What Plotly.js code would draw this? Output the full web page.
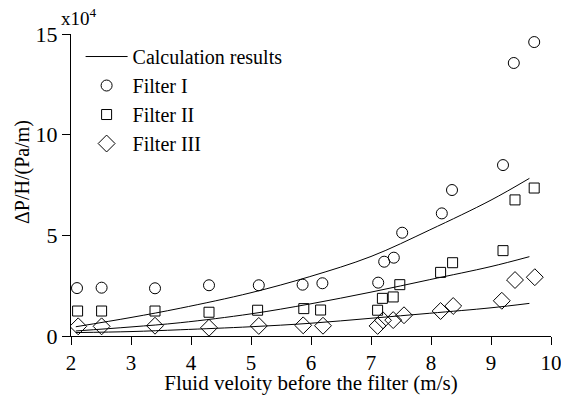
<!DOCTYPE html>
<html>
<head>
<meta charset="utf-8">
<script src="https://cdn.plot.ly/plotly-3.0.1.min.js"></script>
<style>html,body{margin:0;padding:0;background:#fff;}#chart{width:561px;height:395px;}</style>
</head>
<body>
<div id="chart"></div>
<script>
// Calculation results (three curves)
const calcX = [2.08, 3.0, 3.82, 5.0, 5.98, 7.0, 7.98, 9.0, 9.64];
const calcTop = [0.46, 0.92, 1.38, 2.15, 2.95, 3.95, 5.27, 6.75, 7.83];
const calcMid = [0.25, 0.45, 0.66, 1.1, 1.59, 2.18, 2.8, 3.45, 3.94];
const calcLow = [0.17, 0.22, 0.31, 0.46, 0.63, 0.88, 1.13, 1.4, 1.62];

// Filter I (circles)
const f1X = [2.1, 2.51, 3.4, 4.3, 5.13, 5.86, 6.19, 7.12, 7.22, 7.38, 7.52, 8.18, 8.35, 9.2, 9.38, 9.72];
const f1Y = [2.38, 2.4, 2.37, 2.52, 2.52, 2.55, 2.62, 2.65, 3.69, 3.89, 5.13, 6.09, 7.25, 8.49, 13.56, 14.6];

// Filter II (squares)
const f2X = [2.11, 2.51, 3.4, 4.3, 5.11, 5.88, 6.16, 7.11, 7.19, 7.37, 7.48, 8.16, 8.36, 9.2, 9.4, 9.72];
const f2Y = [1.24, 1.24, 1.24, 1.18, 1.28, 1.36, 1.29, 1.28, 1.87, 1.94, 2.55, 3.16, 3.64, 4.24, 6.76, 7.35];

// Filter III (diamonds)
const f3X = [2.12, 2.51, 3.4, 4.3, 5.13, 5.87, 6.2, 7.11, 7.2, 7.37, 7.55, 8.16, 8.37, 9.18, 9.4, 9.73];
const f3Y = [0.48, 0.48, 0.51, 0.41, 0.5, 0.53, 0.51, 0.5, 0.78, 0.79, 1.03, 1.24, 1.49, 1.75, 2.78, 2.92];

const xTicks = [2, 3, 4, 5, 6, 7, 8, 9, 10];
const yTicks = [0, 5, 10, 15];

const FONT = "'Liberation Serif', serif";
const lineStyle = {color: '#000', width: 1, shape: 'spline'};

const traces = [
  {x: calcX, y: calcTop, mode: 'lines', line: lineStyle, name: 'Calculation results', showlegend: true},
  {x: calcX, y: calcMid, mode: 'lines', line: lineStyle, name: 'mid', showlegend: false},
  {x: calcX, y: calcLow, mode: 'lines', line: lineStyle, name: 'low', showlegend: false},
  {x: f1X, y: f1Y, mode: 'markers', name: 'Filter I',
   marker: {symbol: 'circle-open', size: 11, color: '#000', line: {width: 1, color: '#000'}}},
  {x: f2X, y: f2Y, mode: 'markers', name: 'Filter II',
   marker: {symbol: 'square-open', size: 10, color: '#000', line: {width: 1, color: '#000'}}},
  {x: f3X, y: f3Y, mode: 'markers', name: 'Filter III',
   marker: {symbol: 'diamond-open', size: 13, color: '#000', line: {width: 1, color: '#000'}}}
];

const layout = {
  width: 561, height: 395,
  margin: {l: 71, r: 10, t: 34, b: 59},
  paper_bgcolor: '#fff', plot_bgcolor: '#fff',
  font: {family: FONT, size: 21, color: '#000'},
  showlegend: true,
  legend: {x: 0.02, y: 0.99, xanchor: 'left', yanchor: 'top', bgcolor: 'rgba(0,0,0,0)',
           font: {family: FONT, size: 20, color: '#000'}, tracegroupgap: 0, itemwidth: 42},
  xaxis: {
    range: [2, 10], tickvals: xTicks, ticktext: xTicks.map(String),
    showline: true, linecolor: '#000', linewidth: 1, ticks: 'outside', ticklen: 8, tickcolor: '#000',
    showgrid: false, zeroline: false, mirror: false, ticklabeloverflow: 'allow',
    tickfont: {family: FONT, size: 21, color: '#000'},
    title: {text: 'Fluid veloity before the filter (m/s)', font: {family: FONT, size: 21, color: '#000'}, standoff: 3}
  },
  yaxis: {
    range: [0, 15], tickvals: yTicks, ticktext: yTicks.map(String),
    showline: true, linecolor: '#000', linewidth: 1, ticks: 'outside', ticklen: 8, tickcolor: '#000',
    showgrid: false, zeroline: false, mirror: false, ticklabeloverflow: 'allow',
    tickfont: {family: FONT, size: 22, color: '#000'}
  },
  annotations: [{
    text: 'x10<sup>4</sup>', xref: 'paper', yref: 'paper', x: 0, y: 1, xanchor: 'center', yanchor: 'bottom',
    xshift: 8, yshift: 3, showarrow: false, font: {family: FONT, size: 19, color: '#000'}
  }, {
    text: 'ΔP/H/(Pa/m)', textangle: -90, xref: 'paper', yref: 'paper',
    x: (22 - 71) / 480, y: (336 - 172) / 302, xanchor: 'center', yanchor: 'middle',
    showarrow: false, font: {family: FONT, size: 20, color: '#000'}
  }]
};

Plotly.newPlot('chart', traces, layout, {displayModeBar: false, staticPlot: true});
</script>
</body>
</html>
